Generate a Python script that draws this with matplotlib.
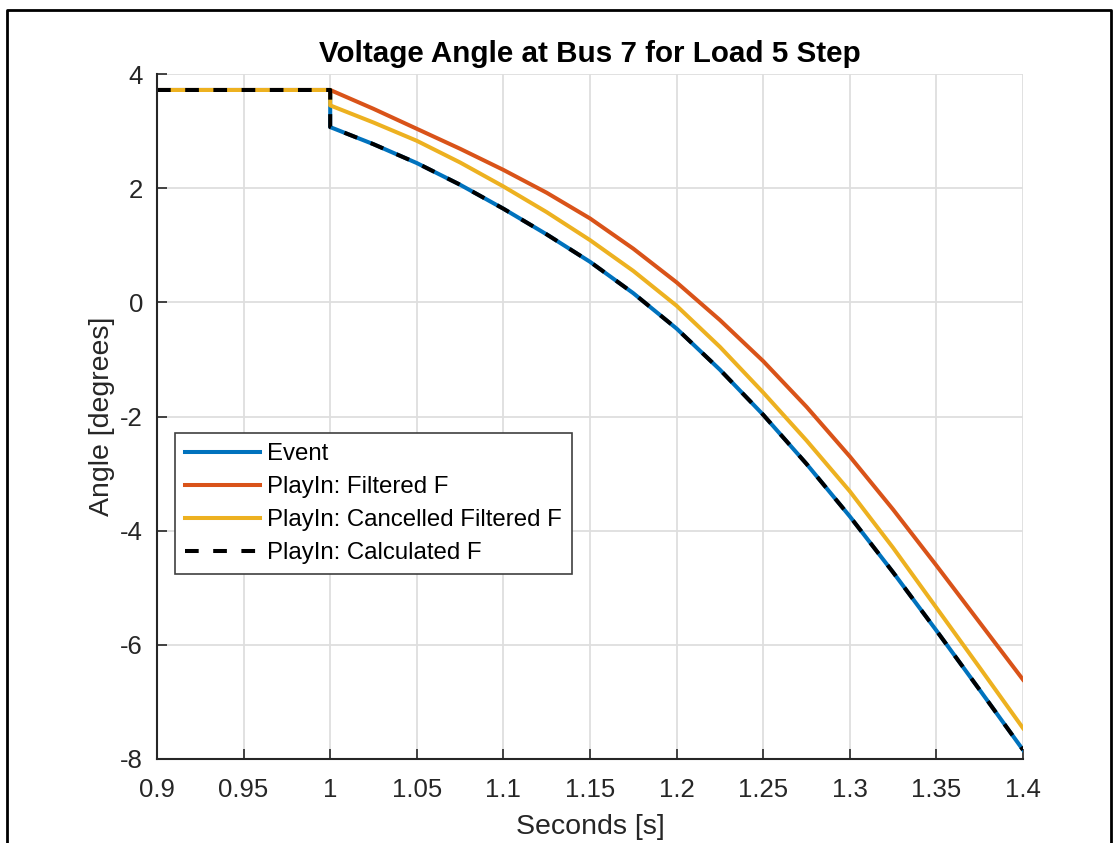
import matplotlib
matplotlib.use('Agg')
import matplotlib.pyplot as plt
from matplotlib.lines import Line2D

plt.rcParams['font.family'] = ['Liberation Sans', 'DejaVu Sans']
plt.rcParams['axes.unicode_minus'] = False

# Time axis (s) - step happens at t = 1.0
t = [0.9, 1.0, 1.0, 1.025, 1.05, 1.075, 1.1, 1.125, 1.15, 1.175, 1.2,
     1.225, 1.25, 1.275, 1.3, 1.325, 1.35, 1.375, 1.4]

# Angle values (degrees)
event = [3.72, 3.72, 3.07, 2.77, 2.44, 2.06, 1.64, 1.19, 0.71, 0.16, -0.46,
         -1.18, -1.97, -2.83, -3.75, -4.73, -5.75, -6.79, -7.84]
filtered = [3.72, 3.72, 3.72, 3.39, 3.04, 2.69, 2.32, 1.92, 1.47, 0.94, 0.35,
            -0.31, -1.03, -1.83, -2.70, -3.63, -4.61, -5.61, -6.61]
cancelled = [3.72, 3.72, 3.45, 3.15, 2.83, 2.45, 2.03, 1.58, 1.09, 0.55, -0.06,
             -0.78, -1.58, -2.42, -3.31, -4.30, -5.35, -6.40, -7.46]
calculated = [3.72, 3.72, 3.07, 2.77, 2.44, 2.06, 1.64, 1.19, 0.71, 0.16, -0.46,
              -1.18, -1.97, -2.83, -3.75, -4.73, -5.75, -6.79, -7.84]

labels = ['Event', 'PlayIn: Filtered F', 'PlayIn: Cancelled Filtered F', 'PlayIn: Calculated F']
xticks = [0.9, 0.95, 1, 1.05, 1.1, 1.15, 1.2, 1.25, 1.3, 1.35, 1.4]
xticklabels = ['0.9', '0.95', '1', '1.05', '1.1', '1.15', '1.2', '1.25', '1.3', '1.35', '1.4']
yticks = [-8, -6, -4, -2, 0, 2, 4]

fig = plt.figure(figsize=(11.14, 8.43), dpi=100)
ax = fig.add_axes([157/1114, 1 - 759/843, 866/1114, 685/843])

lw = 2.9
ax.plot(t, event, color='#0072BD', lw=lw, label=labels[0])
ax.plot(t, filtered, color='#D95319', lw=lw, label=labels[1])
ax.plot(t, cancelled, color='#EDB120', lw=lw, label=labels[2])
ax.plot(t, calculated, color='black', lw=lw, dashes=(3.4, 3.6), label=labels[3])

ax.set_xlim(0.9, 1.4)
ax.set_ylim(-8, 4)
ax.set_xticks(xticks)
ax.set_xticklabels(xticklabels)
ax.set_yticks(yticks)

ax.grid(True, color='#dedede', lw=1.3)
ax.set_axisbelow(True)
for side in ['top', 'right']:
    ax.spines[side].set_visible(False)
for side in ['left', 'bottom']:
    ax.spines[side].set_color('#262626')
    ax.spines[side].set_linewidth(1.5)
ax.tick_params(direction='in', length=7, width=1.2, colors='#262626',
               labelsize=18.5)
ax.tick_params(axis='x', pad=14)
ax.tick_params(axis='y', pad=10)

ax.set_title('Voltage Angle at Bus 7 for Load 5 Step', fontsize=21.3, fontweight='bold', pad=9)
ax.set_xlabel('Seconds [s]', fontsize=20.5, color='#262626', labelpad=8)
ax.set_ylabel('Angle [degrees]', fontsize=20.5, color='#262626', labelpad=4)

leg = ax.legend(loc='upper left', bbox_to_anchor=(0.021, 0.476), borderaxespad=0,
                fontsize=17.3, handlelength=3.1, fancybox=False, framealpha=1,
                edgecolor='#404040', labelspacing=0.46, handletextpad=0.3,
                borderpad=0.42)
leg.get_frame().set_linewidth(1.2)

# outer frame of the exported figure
ty = 1 - 10/843
fig.add_artist(Line2D([7/1114, 7/1114, 1111/1114, 1111/1114], [0, ty, ty, 0],
                      transform=fig.transFigure, color='black', lw=2))

fig.savefig('out.png', dpi=100)
